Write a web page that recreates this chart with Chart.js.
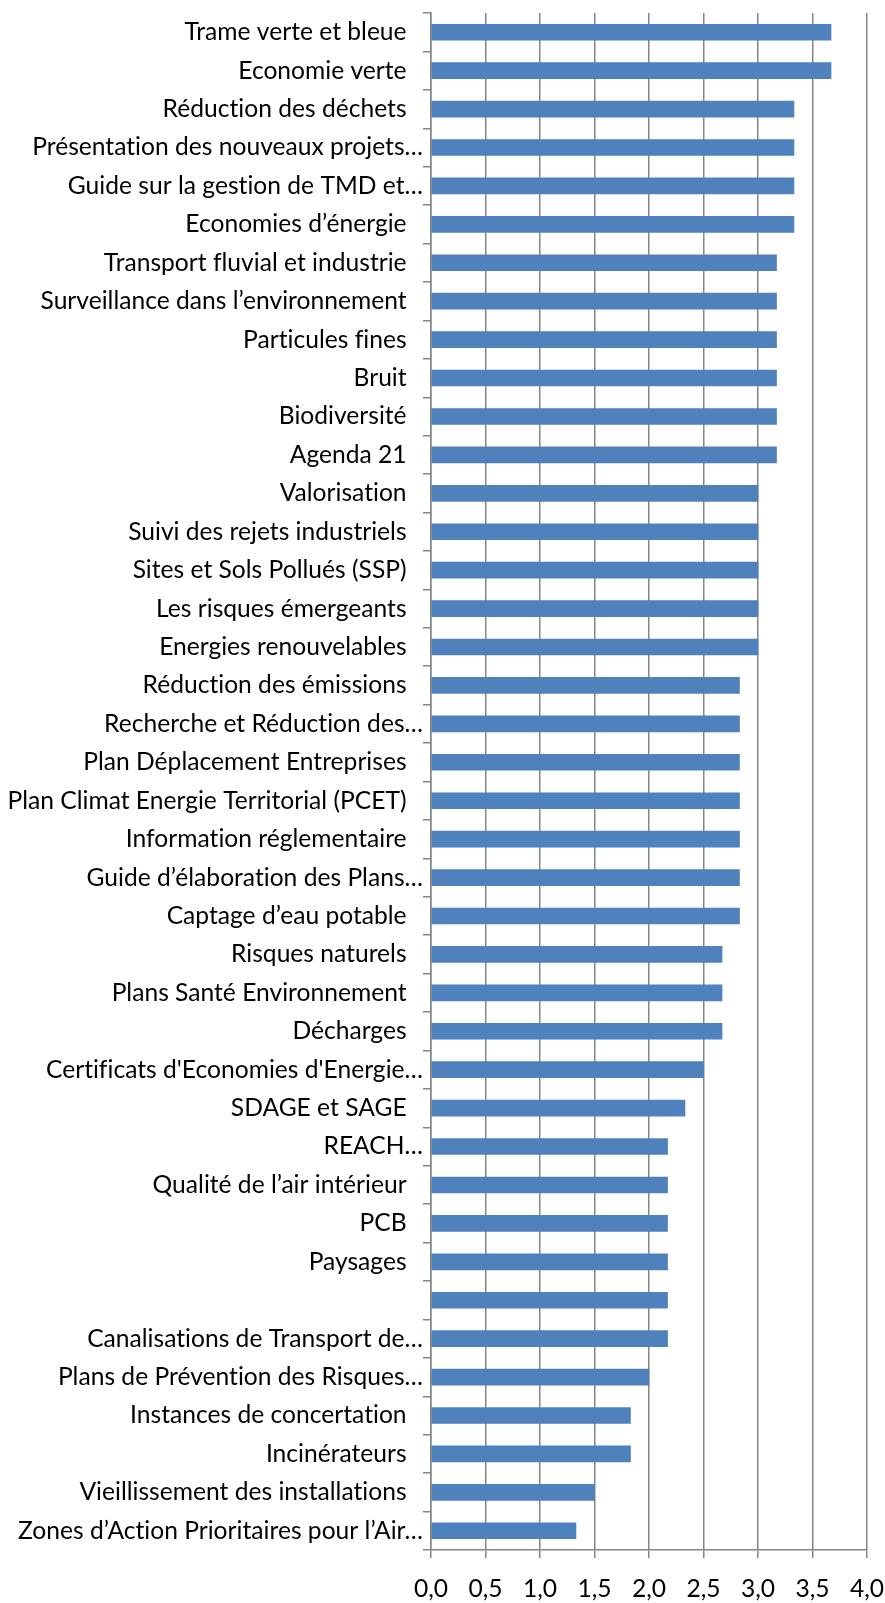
<!DOCTYPE html>
<html>
<head>
<meta charset="utf-8">
<script src="https://cdn.jsdelivr.net/npm/chart.js@4/dist/chart.umd.min.js"></script>
<style>
  html, body { margin: 0; padding: 0; background: #fff; }
  #wrap { width: 885px; height: 1603px; position: relative; }
</style>
</head>
<body>
<div id="wrap"><canvas id="chart_themes"></canvas></div>
<script>
const themes = [
  'Trame verte et bleue',
  'Economie verte',
  'Réduction des déchets',
  'Présentation des nouveaux projets…',
  'Guide sur la gestion de TMD et…',
  'Economies d’énergie',
  'Transport fluvial et industrie',
  'Surveillance dans l’environnement',
  'Particules fines',
  'Bruit',
  'Biodiversité',
  'Agenda 21',
  'Valorisation',
  'Suivi des rejets industriels',
  'Sites et Sols Pollués (SSP)',
  'Les risques émergeants',
  'Energies renouvelables',
  'Réduction des émissions',
  'Recherche et Réduction des…',
  'Plan Déplacement Entreprises',
  'Plan Climat Energie Territorial (PCET)',
  'Information réglementaire',
  'Guide d’élaboration des Plans…',
  'Captage d’eau potable',
  'Risques naturels',
  'Plans Santé Environnement',
  'Décharges',
  'Certificats d\'Economies d\'Energie…',
  'SDAGE et SAGE',
  'REACH…',
  'Qualité de l’air intérieur',
  'PCB',
  'Paysages',
  '',
  'Canalisations de Transport de…',
  'Plans de Prévention des Risques…',
  'Instances de concertation',
  'Incinérateurs',
  'Vieillissement des installations',
  'Zones d’Action Prioritaires pour l’Air…'
];

const scores = [
  3.67, 3.67, 3.33, 3.33, 3.33, 3.33,
  3.17, 3.17, 3.17, 3.17, 3.17, 3.17,
  3.0, 3.0, 3.0, 3.0, 3.0,
  2.83, 2.83, 2.83, 2.83, 2.83, 2.83, 2.83,
  2.67, 2.67, 2.67,
  2.5, 2.33,
  2.17, 2.17, 2.17, 2.17, 2.17, 2.17,
  2.0, 1.83, 1.83, 1.5, 1.33
];

const xTicks = ['0,0','0,5','1,0','1,5','2,0','2,5','3,0','3,5','4,0'];

const gridGrey = '#868686';
const labelFont = { family: 'Lato', size: 24.6 };

// plain glyphs, no "ti"/"fi" ligatures
const noLigatures = {
  id: 'noLigatures',
  beforeUpdate(chart) {
    chart.ctx.textRendering = 'optimizeSpeed';
    chart.ctx.letterSpacing = '0.01px';
  },
  beforeDraw(chart) {
    chart.ctx.textRendering = 'optimizeSpeed';
    chart.ctx.letterSpacing = '0.01px';
  }
};

const ctx = document.getElementById('chart_themes');
new Chart(ctx, {
  type: 'bar',
  data: {
    labels: themes,
    datasets: [{
      data: scores,
      backgroundColor: '#4f81bd',
      borderWidth: 0,
      barThickness: 16
    }]
  },
  plugins: [noLigatures],
  options: {
    indexAxis: 'y',
    responsive: true,
    maintainAspectRatio: false,
    animation: false,
    layout: { padding: { top: 13, right: 18, left: 0, bottom: 0 } },
    plugins: { legend: { display: false }, tooltip: { enabled: false } },
    scales: {
      x: {
        min: 0, max: 4,
        ticks: {
          stepSize: 0.5,
          color: '#000',
          font: labelFont,
          padding: 16,
          maxRotation: 0,
          callback: (v, i) => xTicks[i]
        },
        grid: { color: gridGrey, lineWidth: 1.5, tickLength: 8 },
        border: { color: gridGrey, width: 1.5 },
        afterFit: s => { s.height = 53; s.paddingLeft = 0; s.paddingRight = 0; }
      },
      y: {
        ticks: {
          color: '#000',
          font: labelFont,
          padding: 0,
          autoSkip: false,
          // labels without an ellipsis sit a little left of the tick
          callback: function (v) {
            const t = this.getLabelForValue(v);
            return (t === '' || t.endsWith('…')) ? t : t + '\u2002\u2006';
          }
        },
        grid: { offset: true, drawOnChartArea: false, color: gridGrey, lineWidth: 1.5, tickLength: 8 },
        border: { color: gridGrey, width: 1.5 },
        afterFit: s => { s.width = 431; s.paddingTop = 0; s.paddingBottom = 0; }
      }
    }
  }
});
</script>
</body>
</html>
